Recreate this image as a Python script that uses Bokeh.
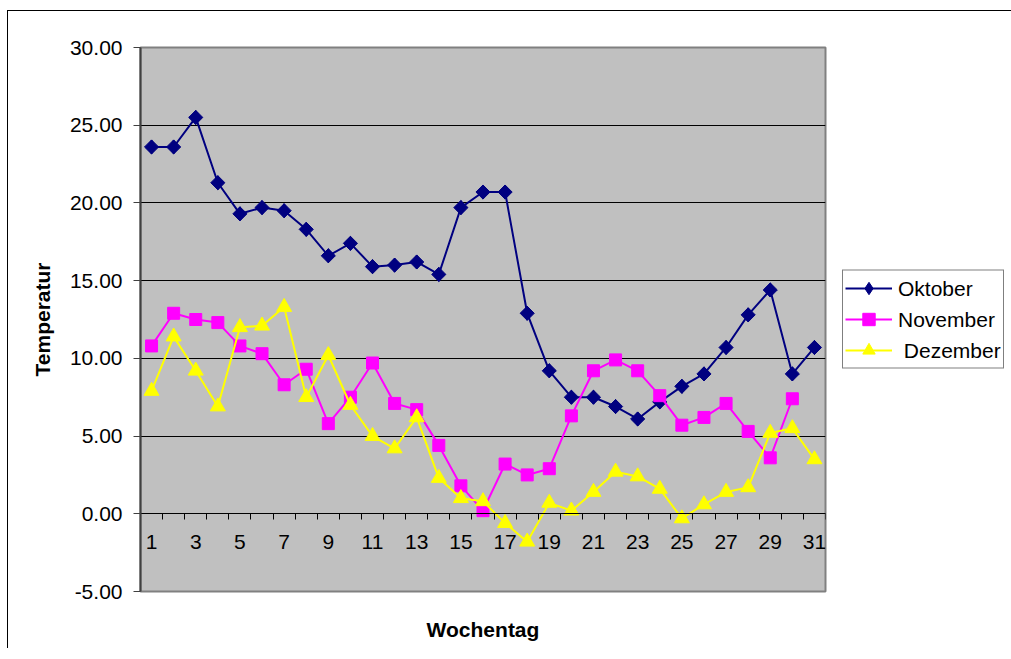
from bokeh.plotting import figure
from bokeh.models import (Range1d, FixedTicker, LinearAxis, Legend, LegendItem,
                          PrintfTickFormatter)
from bokeh.embed import file_html
from bokeh.resources import INLINE
import math

days = list(range(1, 32))
oktober = [23.6, 23.6, 25.5, 21.3, 19.3, 19.7, 19.5, 18.3, 16.6, 17.4, 15.9, 16.0, 16.2, 15.4,
           19.7, 20.7, 20.7, 12.9, 9.2, 7.5, 7.5, 6.9, 6.1, 7.2, 8.2, 9.0, 10.7, 12.8, 14.4, 9.0, 10.7]
november = [10.8, 12.9, 12.5, 12.3, 10.8, 10.3, 8.3, 9.3, 5.8, 7.5, 9.7, 7.1, 6.7, 4.4,
            1.8, 0.2, 3.2, 2.5, 2.9, 6.3, 9.2, 9.9, 9.2, 7.6, 5.7, 6.2, 7.1, 5.3, 3.6, 7.4]
dezember = [7.9, 11.4, 9.2, 6.9, 12.0, 12.1, 13.3, 7.5, 10.2, 7.0, 5.0, 4.2, 6.2, 2.3,
            1.0, 0.8, -0.6, -1.8, 0.7, 0.2, 1.4, 2.7, 2.4, 1.6, -0.3, 0.6, 1.4, 1.7, 5.2, 5.5, 3.5]
series_names = ["Oktober", "November", " Dezember"]
y_ticks = [-5, 0, 5, 10, 15, 20, 25, 30]
x_label_ticks = list(range(1, 32, 2))
x_bounds = [d - 0.5 for d in days] + [31.5]

FONT = "Liberation Sans"

p = figure(frame_width=685, frame_height=544, output_backend="svg", toolbar_location=None,
           x_range=Range1d(0.5, 31.5), y_range=Range1d(-5, 30),
           min_border_left=132, min_border_right=178, min_border_top=36, min_border_bottom=57,
           background_fill_color="#C0C0C0", border_fill_color="white")
p.margin = (10, 0, 0, 7)
p.styles = {"border-top": "1px solid black", "border-left": "1px solid black"}
p.outline_line_color = "#808080"
p.outline_line_width = 2

# y axis
ya = p.yaxis[0]
ya.ticker = FixedTicker(ticks=y_ticks)
ya.formatter = PrintfTickFormatter(format="%.2f")
ya.major_label_text_font = FONT
ya.major_label_text_font_size = "21px"
ya.major_label_text_color = "black"
ya.major_tick_out = 7
ya.major_tick_in = 0
ya.minor_tick_line_color = None
ya.major_tick_line_color = "#404040"
ya.axis_line_color = "#404040"
ya.axis_line_width = 2
ya.major_label_standoff = 11
ya.axis_label = "Temperatur"
ya.axis_label_text_font = FONT
ya.axis_label_text_font_size = "21px"
ya.axis_label_text_font_style = "bold"
ya.axis_label_text_color = "black"
ya.axis_label_standoff = 13

p.ygrid.ticker = FixedTicker(ticks=y_ticks)
p.ygrid.grid_line_color = "black"
p.ygrid.grid_line_width = 1
p.xgrid.visible = False

# x axis at y = 0
xa = p.xaxis[0]
xa.fixed_location = 0
xa.ticker = FixedTicker(ticks=x_label_ticks, minor_ticks=x_bounds)
xa.major_tick_line_color = None
xa.major_tick_out = 0
xa.major_tick_in = 0
xa.minor_tick_out = 6
xa.minor_tick_in = 0
xa.minor_tick_line_color = "black"
xa.axis_line_color = "black"
xa.axis_line_width = 1
xa.major_label_text_font = FONT
xa.major_label_text_font_size = "21px"
xa.major_label_text_color = "black"
xa.major_label_standoff = 15

# x axis title holder
xt = LinearAxis(axis_label="Wochentag", ticker=FixedTicker(ticks=[]),
                axis_line_color=None, major_tick_line_color=None,
                minor_tick_line_color=None,
                major_tick_out=0, minor_tick_out=0, major_label_standoff=0,
                axis_label_standoff=26, axis_label_text_font=FONT,
                axis_label_text_font_size="21px", axis_label_text_font_style="bold",
                axis_label_text_color="black")
p.add_layout(xt, "below")

colors = ["#000080", "#FF00FF", "#FFFF00"]
items = []

l1 = p.line(days, oktober, line_color=colors[0], line_width=2)
# diamond used for the legend symbol, covered in the plot by the rotated square
d1 = p.scatter(days, oktober, marker="diamond", size=14,
               fill_color=colors[0], line_color=colors[0])
s1 = p.scatter(days, oktober, marker="square", angle=math.pi / 4, size=10,
               fill_color=colors[0], line_color=colors[0])
items.append(LegendItem(label=series_names[0], renderers=[l1, d1]))

l2 = p.line(days[:len(november)], november, line_color=colors[1], line_width=2)
s2 = p.scatter(days[:len(november)], november, marker="square", size=12,
               fill_color=colors[1], line_color=colors[1])
items.append(LegendItem(label=series_names[1], renderers=[l2, s2]))

l3 = p.line(days, dezember, line_color=colors[2], line_width=2)
s3 = p.scatter(days, dezember, marker="triangle", size=15,
               fill_color=colors[2], line_color=colors[2])
items.append(LegendItem(label=series_names[2], renderers=[l3, s3]))

legend = Legend(items=items, location="left", orientation="vertical",
                label_text_font=FONT, label_text_font_size="21px", label_text_color="black",
                glyph_width=47, glyph_height=31, label_height=31, label_standoff=6,
                padding=2, spacing=0, margin=17,
                border_line_color="black", border_line_width=1,
                background_fill_color="white", background_fill_alpha=1)
p.add_layout(legend, "right")

open("out.html", "w").write(file_html(p, INLINE))
